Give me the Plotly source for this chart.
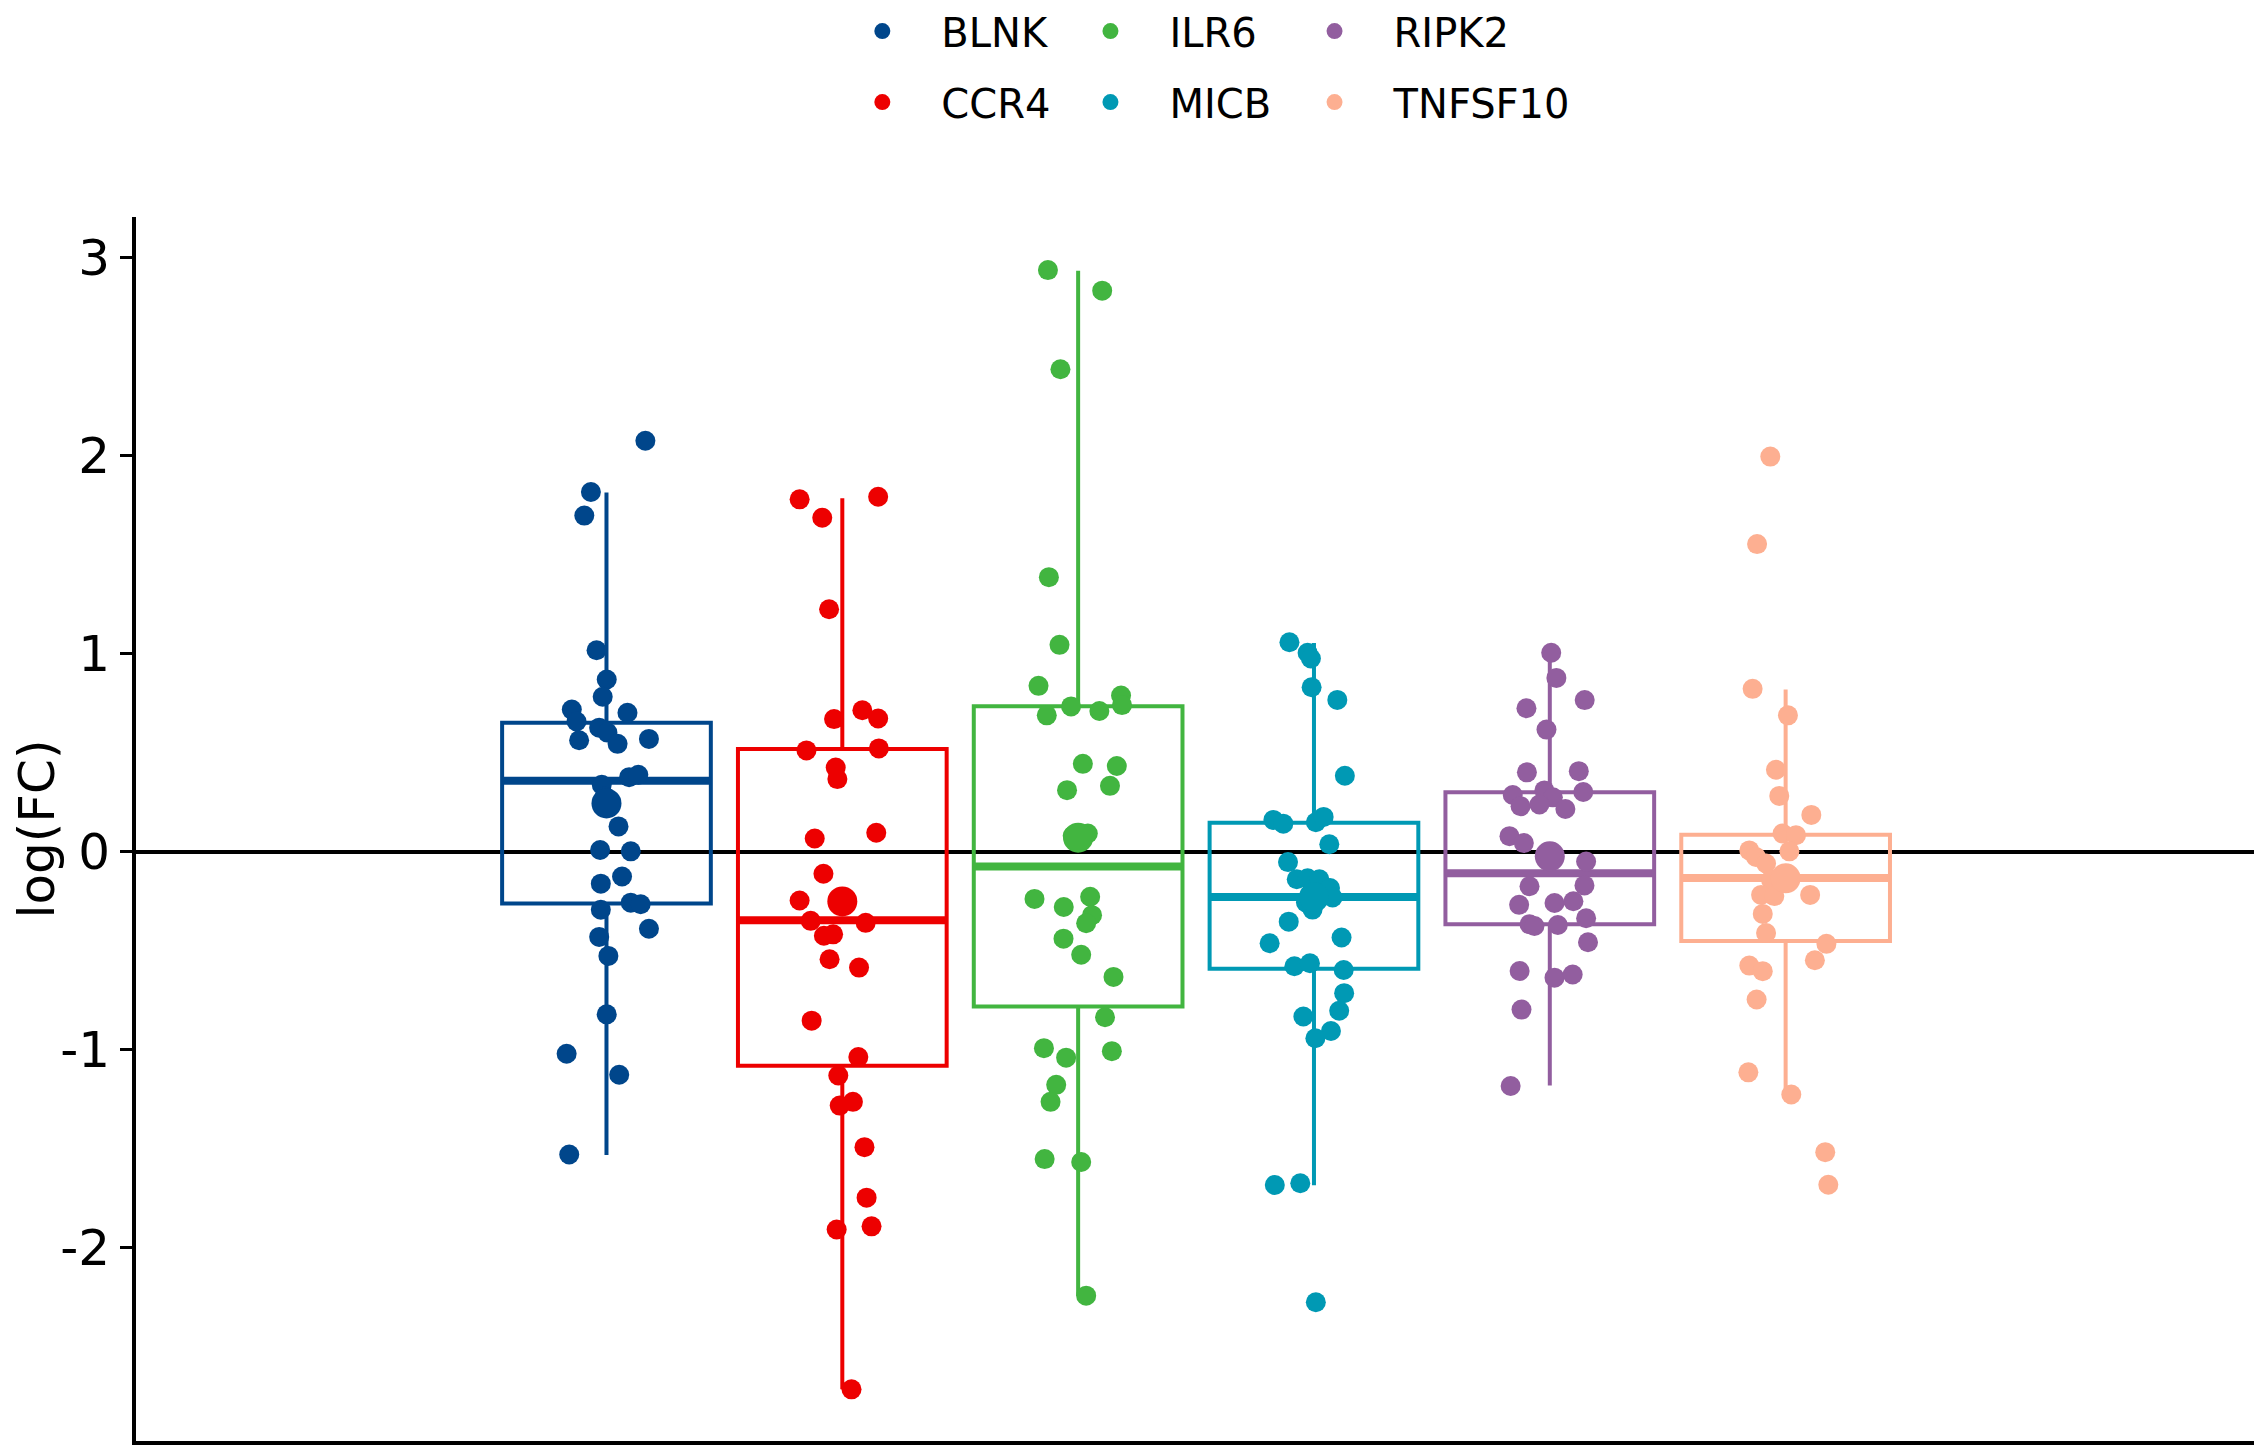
import plotly.graph_objects as go

genes = ["BLNK", "CCR4", "ILR6", "MICB", "RIPK2", "TNFSF10"]
colors = ["#00468B", "#ED0000", "#42B540", "#0099B4", "#925E9F", "#FDAF91"]

# box statistics
q1 = [-0.26, -1.08, -0.78, -0.59, -0.365, -0.45]
median = [0.36, -0.345, -0.074, -0.228, -0.107, -0.132]
q3 = [0.653, 0.52, 0.736, 0.148, 0.302, 0.087]
lower = [-1.53, -2.714, -2.243, -1.683, -1.18, -1.21]
upper = [1.816, 1.786, 2.935, 1.055, 1.006, 0.82]
means = [0.245, -0.25, 0.072, -0.228, -0.022, -0.133]

# individual points (value, horizontal jitter)
BLNK_y = [2.077, 1.818, 1.699, 1.019, 0.871, 0.784, 0.719, 0.703, 0.659, 0.628, 0.603, 0.564, 0.546, 0.571,
          0.378, 0.390, 0.339, 0.28, 0.129, 0.010, 0.003, -0.160, -0.124, -0.256, -0.264, -0.292, -0.388,
          -0.429, -0.525, -0.820, -1.019, -1.125, -1.528]
BLNK_dx = [0.165, -0.066, -0.094, -0.042, 0.001, -0.016, -0.147, 0.089, -0.127, -0.031, 0.004, -0.116, 0.047,
           0.180, 0.096, 0.135, -0.020, -0.007, 0.051, -0.027, 0.103, -0.024, 0.066, 0.103, 0.145, -0.024,
           0.180, -0.031, 0.008, 0.001, -0.169, 0.054, -0.158]

CCR4_y = [1.781, 1.688, 1.794, 1.226, 0.671, 0.716, 0.674, 0.513, 0.523, 0.426, 0.368, 0.068, 0.097, -0.110,
          -0.245, -0.348, -0.358, -0.423, -0.416, -0.542, -0.584, -0.852, -1.036, -1.129, -1.281, -1.262,
          -1.491, -1.746, -1.907, -1.891, -2.714]
CCR4_dx = [-0.181, -0.085, 0.152, -0.056, -0.035, 0.085, 0.152, -0.152, 0.155, -0.028, -0.021, -0.117, 0.144,
           -0.080, -0.181, -0.134, 0.099, -0.078, -0.039, -0.054, 0.071, -0.130, 0.068, -0.017, -0.011, 0.045,
           0.094, 0.103, -0.024, 0.124, 0.039]

ILR6_y = [2.939, 2.835, 2.438, 1.388, 1.046, 0.839, 0.735, 0.712, 0.790, 0.742, 0.690, 0.445, 0.434, 0.312,
          0.334, 0.082, 0.093, -0.237, -0.278, -0.226, -0.319, -0.360, -0.438, -0.519, -0.631, -0.835, -0.991,
          -1.039, -1.006, -1.176, -1.262, -1.551, -1.566, -2.241]
ILR6_dx = [-0.128, 0.102, -0.075, -0.124, -0.079, -0.168, -0.030, 0.090, 0.182, 0.186, -0.133, 0.020, 0.164,
           -0.047, 0.135, -0.023, 0.041, -0.185, -0.061, 0.051, 0.059, 0.034, -0.062, 0.013, 0.150, 0.114,
           -0.145, -0.051, 0.143, -0.093, -0.117, -0.142, 0.013, 0.034]

MICB_y = [1.059, 1.006, 0.977, 0.832, 0.768, 0.385, 0.162, 0.143, 0.150, 0.177, 0.039, -0.051, -0.138, -0.133,
          -0.138, -0.182, -0.230, -0.255, -0.291, -0.352, -0.461, -0.432, -0.577, -0.562, -0.596, -0.713,
          -0.802, -0.831, -0.904, -0.941, -1.682, -1.673, -2.274]
MICB_dx = [-0.104, -0.027, -0.013, -0.010, 0.099, 0.131, -0.172, -0.130, 0.008, 0.041, 0.065, -0.110, -0.073,
           -0.027, 0.023, 0.068, 0.079, -0.034, -0.006, -0.107, -0.188, 0.117, -0.083, -0.017, 0.126, 0.128,
           0.107, -0.045, 0.072, 0.006, -0.166, -0.058, 0.008]

RIPK2_y = [1.006, 0.879, 0.726, 0.767, 0.618, 0.402, 0.408, 0.288, 0.311, 0.303, 0.276, 0.231, 0.240, 0.217,
           0.080, 0.045, -0.048, -0.173, -0.169, -0.267, -0.258, -0.249, -0.365, -0.374, -0.369, -0.335,
           -0.456, -0.601, -0.635, -0.619, -0.796, -1.182]
RIPK2_dx = [0.006, 0.028, -0.099, 0.148, -0.014, -0.097, 0.123, -0.157, -0.023, 0.142, 0.013, -0.124, -0.044,
            0.066, -0.171, -0.110, 0.154, -0.086, 0.147, -0.130, 0.020, 0.100, -0.086, -0.065, 0.034, 0.154,
            0.162, -0.128, 0.020, 0.097, -0.120, -0.166]

TNFSF10_y = [1.997, 1.555, 0.824, 0.690, 0.415, 0.283, 0.187, 0.093, 0.085, 0.003, 0.008, -0.025, -0.058,
             -0.140, -0.217, -0.223, -0.217, -0.313, -0.409, -0.464, -0.547, -0.574, -0.602, -0.745, -1.113,
             -1.225, -1.516, -1.681]
TNFSF10_dx = [-0.065, -0.121, -0.140, 0.010, -0.041, -0.027, 0.109, -0.013, 0.044, 0.016, -0.154, -0.126,
              -0.083, -0.062, -0.104, -0.048, 0.104, -0.097, -0.083, 0.173, 0.124, -0.154, -0.097, -0.123,
              -0.158, 0.024, 0.168, 0.181]

points_y = [BLNK_y, CCR4_y, ILR6_y, MICB_y, RIPK2_y, TNFSF10_y]
points_dx = [BLNK_dx, CCR4_dx, ILR6_dx, MICB_dx, RIPK2_dx, TNFSF10_dx]

ytick_vals = [-2, -1, 0, 1, 2, 3]
ytick_text = ["-2", "-1", "0", "1", "2", "3"]

BOX_W = 0.885
FONT = "DejaVu Sans"

# legend columns: (BLNK, CCR4), (ILR6, MICB), (RIPK2, TNFSF10)
legend_of = {"BLNK": "legend", "CCR4": "legend",
             "ILR6": "legend2", "MICB": "legend2",
             "RIPK2": "legend3", "TNFSF10": "legend3"}

fig = go.Figure()

for i, g in enumerate(genes):
    fig.add_trace(go.Box(
        x=[i + 1], q1=[q1[i]], median=[median[i]], q3=[q3[i]],
        lowerfence=[lower[i]], upperfence=[upper[i]],
        name=g, legendgroup=g, showlegend=False,
        width=BOX_W, whiskerwidth=0, boxpoints=False,
        line=dict(color=colors[i], width=4),
        fillcolor="rgba(255,255,255,0)",
        hoverinfo="skip",
    ))

# thicker median lines
for i, g in enumerate(genes):
    fig.add_trace(go.Scatter(
        x=[i + 1 - BOX_W / 2, i + 1 + BOX_W / 2], y=[median[i], median[i]],
        mode="lines", line=dict(color=colors[i], width=8),
        showlegend=False, legendgroup=g, hoverinfo="skip",
    ))

# jittered points (these carry the legend entries)
for i, g in enumerate(genes):
    fig.add_trace(go.Scatter(
        x=[i + 1 + d for d in points_dx[i]], y=points_y[i],
        mode="markers", marker=dict(color=colors[i], size=20, line=dict(width=0)),
        name=g, legendgroup=g, showlegend=True, legend=legend_of[g],
    ))

# mean points
for i, g in enumerate(genes):
    fig.add_trace(go.Scatter(
        x=[i + 1], y=[means[i]],
        mode="markers", marker=dict(color=colors[i], size=30, line=dict(width=0)),
        showlegend=False, legendgroup=g,
    ))

legend_common = dict(
    orientation="v", font=dict(family=FONT, size=40, color="black"),
    bgcolor="rgba(0,0,0,0)", traceorder="grouped", tracegroupgap=16,
    xanchor="left", yanchor="middle", y=1.1229,
    itemsizing="trace", itemwidth=108,
)

fig.update_layout(
    width=2262, height=1449,
    margin=dict(l=128, r=8, t=209, b=16, autoexpand=False),
    paper_bgcolor="white", plot_bgcolor="white",
    font=dict(family=FONT, color="black"),
    legend=dict(x=0.3233, **legend_common),
    legend2=dict(x=0.4306, **legend_common),
    legend3=dict(x=0.5360, **legend_common),
    xaxis=dict(
        range=[-0.995, 8.02], showgrid=False, zeroline=False,
        showline=True, linecolor="black", linewidth=4,
        showticklabels=False, ticks="",
    ),
    yaxis=dict(
        range=[-2.975, 3.207], showgrid=False,
        zeroline=True, zerolinecolor="black", zerolinewidth=4,
        showline=True, linecolor="black", linewidth=4,
        ticks="outside", ticklen=12, tickwidth=3, tickcolor="black",
        tickvals=ytick_vals, ticktext=ytick_text,
        tickfont=dict(family=FONT, size=50, color="black"),
        title=dict(text="log(FC)", font=dict(family=FONT, size=50, color="black"), standoff=29),
        layer="above traces",
    ),
)

fig.write_html("out.html")
